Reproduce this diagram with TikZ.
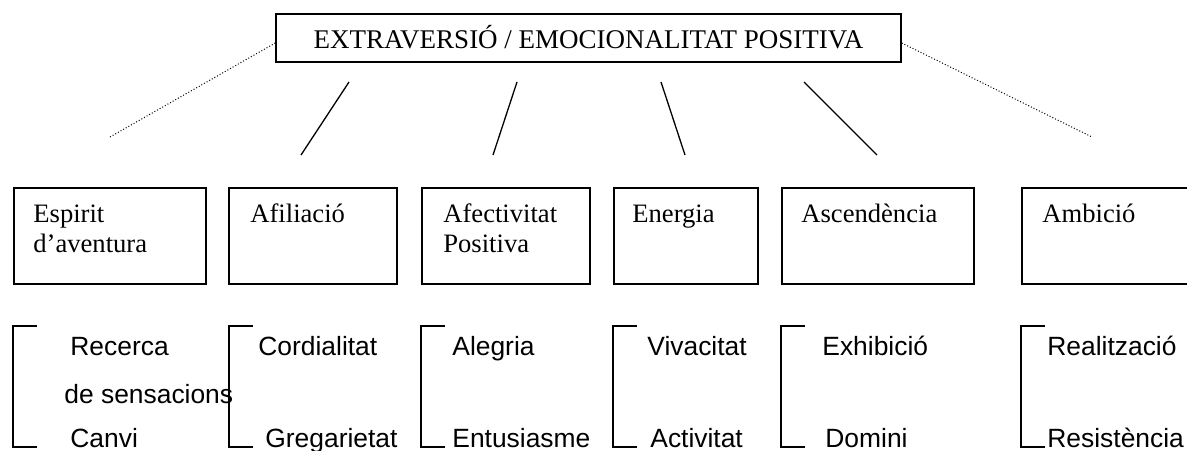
\documentclass[tikz,border=0pt]{standalone}
\usepackage{fontspec}
\setmainfont{Liberation Serif}
\newfontfamily\arialfont{Liberation Sans}

\tikzset{
  facet/.style={draw, line width=0.75pt, anchor=north west, minimum height=48pt, inner sep=0pt},
  facetname/.style={anchor=base west, inner sep=0pt, font=\fontsize{13.3pt}{15pt}\selectfont},
  trait/.style={anchor=base west, inner sep=0pt, font=\arialfont\fontsize{13.2pt}{15pt}\selectfont},
  link/.style={line width=0.65pt},
  farlink/.style={line width=0.5pt, dash pattern=on 0.5pt off 1pt},
  brace/.style={line width=0.65pt}
}

\begin{document}
\begin{tikzpicture}[x=0.5pt, y=-0.5pt]
  \useasboundingbox (0,0) rectangle (1187,450);

  % dimensio
  \node[draw, line width=0.75pt, minimum width=312.5pt, minimum height=24pt, inner sep=0pt,
        text height=10pt, text depth=0pt, font=\fontsize{13.5pt}{15pt}\selectfont]
        (extrav) at (588.5,38) {EXTRAVERSIÓ / EMOCIONALITAT POSITIVA};

  % facetes
  \node[facet, minimum width=96pt] (espirit) at (13,187) {};
  \node[facet, minimum width=84pt] (afiliacio) at (228,187) {};
  \node[facet, minimum width=84pt] (afectivitat) at (421,187) {};
  \node[facet, minimum width=72pt] (energia) at (613,187) {};
  \node[facet, minimum width=96pt] (ascendencia) at (781,187) {};
  \node[facet, minimum width=96pt] (ambicio) at (1021,187) {};

  \node[facetname] (espirit-a) at (33,222) {Espirit};
  \node[facetname] (espirit-b) at (33,252) {d’aventura};
  \node[facetname] (afiliacio-a) at (250,222) {Afiliació};
  \node[facetname] (afectivitat-a) at (443,222) {Afectivitat};
  \node[facetname] (afectivitat-b) at (443,252) {Positiva};
  \node[facetname] (energia-a) at (632,222) {Energia};
  \node[facetname] (ascendencia-a) at (801,222) {Ascendència};
  \node[facetname] (ambicio-a) at (1042,222) {Ambició};

  % enllacos
  \coordinate (espirit-far) at (110,137);
  \coordinate (ambicio-far) at (1092,137);
  \coordinate (afiliacio-up) at (349,82);
  \coordinate (afiliacio-down) at (301,155);
  \coordinate (afectivitat-up) at (517,82);
  \coordinate (afectivitat-down) at (493,155);
  \coordinate (energia-up) at (661,82);
  \coordinate (energia-down) at (685,155);
  \coordinate (ascendencia-up) at (804,82);
  \coordinate (ascendencia-down) at (877,155);

  \draw[farlink] ([yshift=-2.5pt]extrav.west) -- (espirit-far);
  \draw[farlink] ([yshift=-2.5pt]extrav.east) -- (ambicio-far);
  \draw[link] (afiliacio-up) -- (afiliacio-down);
  \draw[link] (afectivitat-up) -- (afectivitat-down);
  \draw[link] (energia-up) -- (energia-down);
  \draw[link] (ascendencia-up) -- (ascendencia-down);

  % trets
  \foreach \bx in {13,229,421,613,781,1021}
    \draw[brace] (\bx+24,326) -- (\bx,326) -- (\bx,447) -- (\bx+24,447);

  \node[trait] (recerca) at (70,355) {Recerca};
  \node[trait] (sensacions) at (64,403) {de sensacions};
  \node[trait] (canvi) at (70,447) {Canvi};
  \node[trait] (cordialitat) at (258,355) {Cordialitat};
  \node[trait] (gregarietat) at (265,447) {Gregarietat};
  \node[trait] (alegria) at (452,355) {Alegria};
  \node[trait] (entusiasme) at (452,447) {Entusiasme};
  \node[trait] (vivacitat) at (647,355) {Vivacitat};
  \node[trait] (activitat) at (650,447) {Activitat};
  \node[trait] (exhibicio) at (822,355) {Exhibició};
  \node[trait] (domini) at (825,447) {Domini};
  \node[trait] (realitzacio) at (1047,355) {Realització};
  \node[trait] (resistencia) at (1047,447) {Resistència};
\end{tikzpicture}
\end{document}
